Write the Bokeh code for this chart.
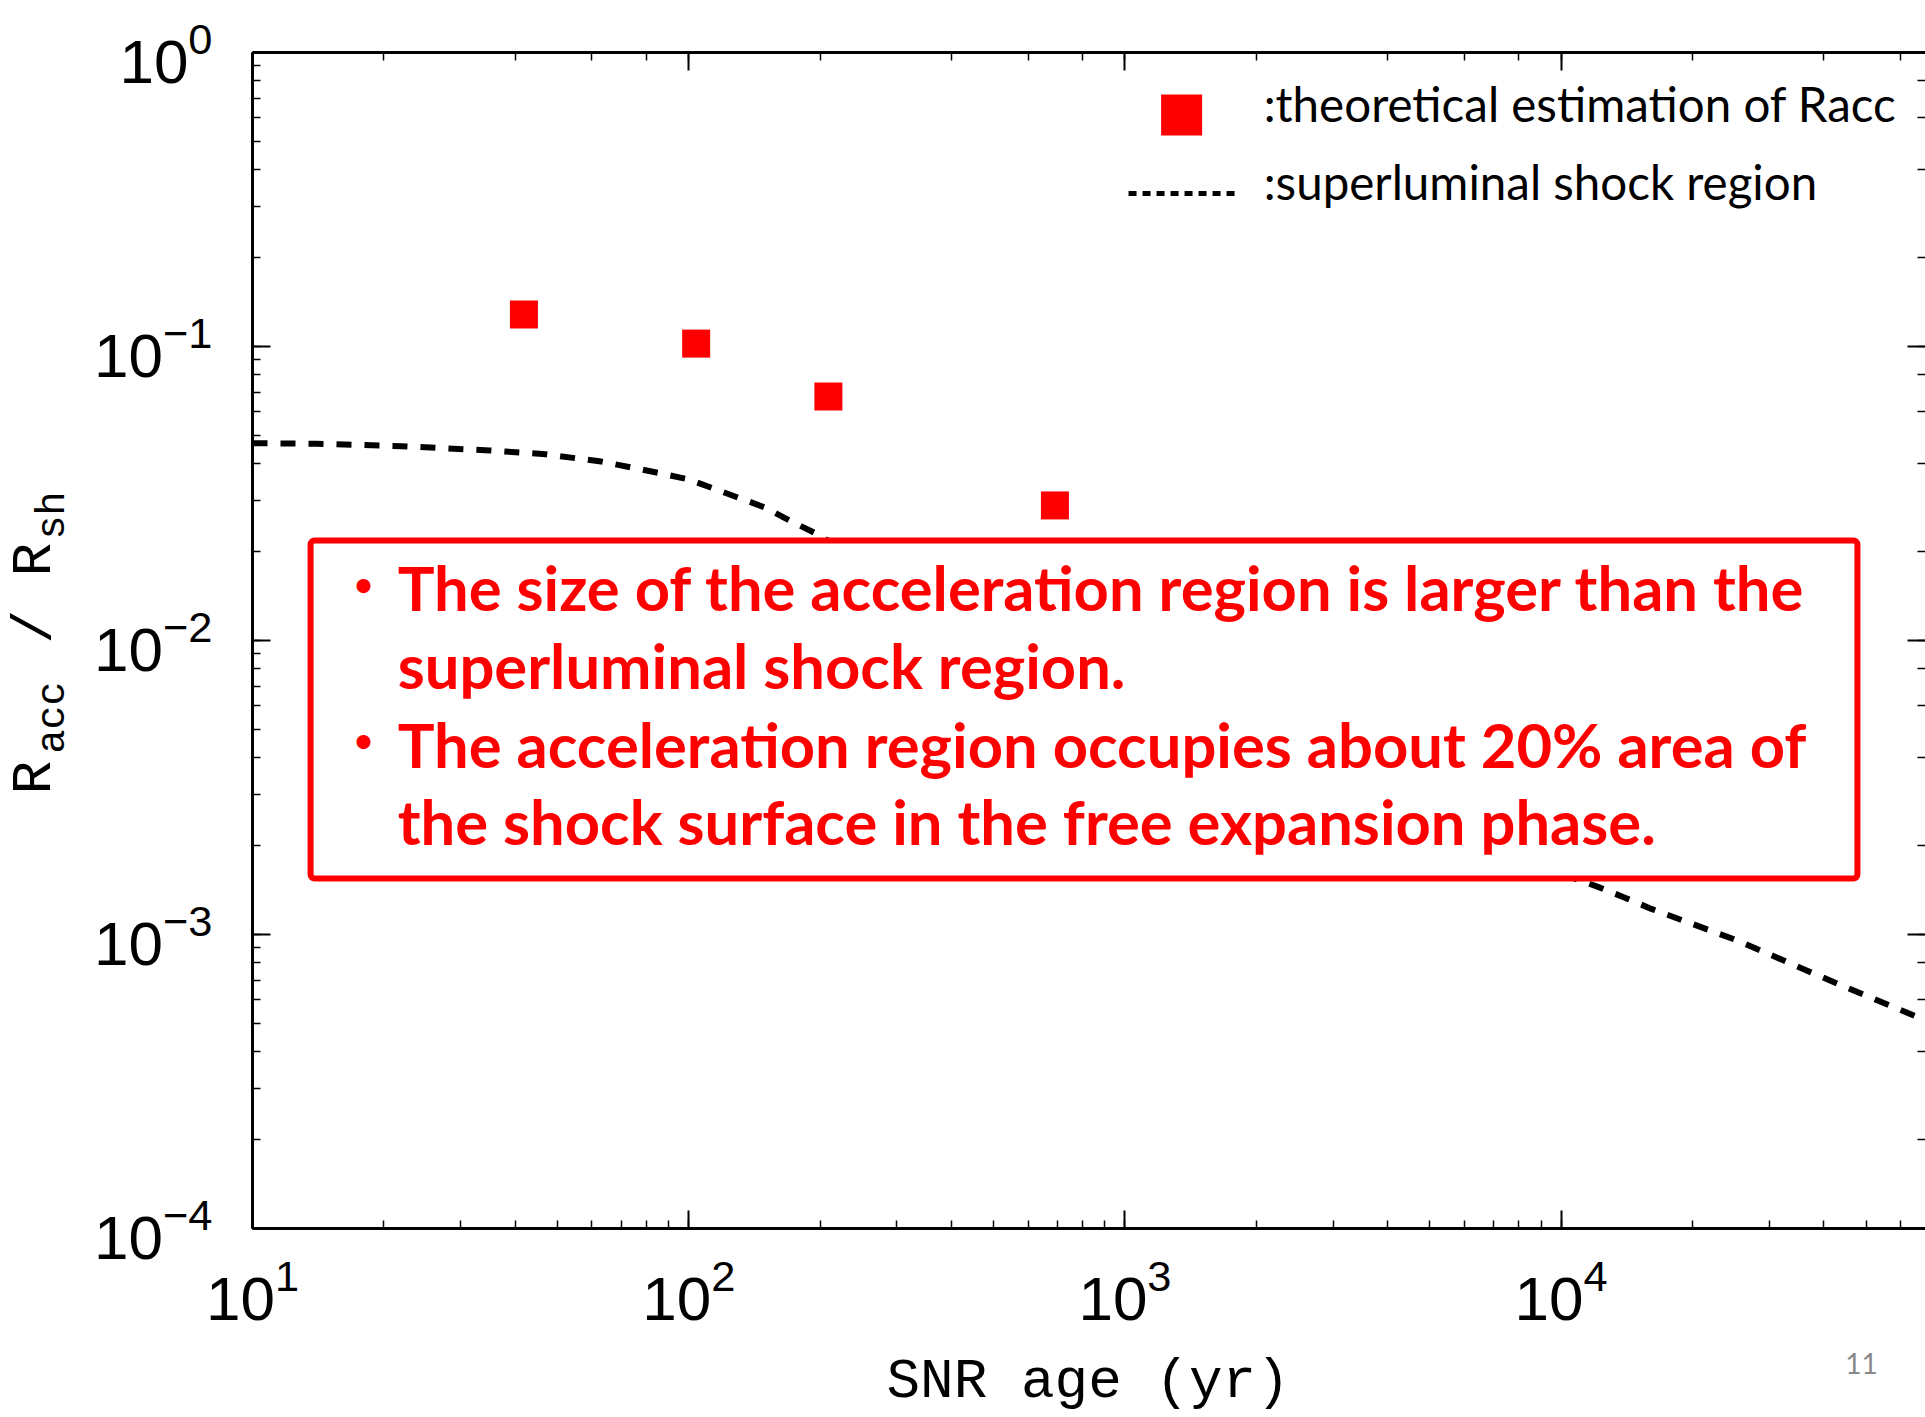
import numpy as np
from bokeh.plotting import figure
from bokeh.layouts import row, column
from bokeh.models import LogAxis, BoxAnnotation, Label, Range1d, CustomJSTickFormatter
from bokeh.embed import file_html
from bokeh.resources import INLINE

# ---- data ----
acc_age = [41.9, 104, 209, 691]            # theoretical estimation of Racc (yr)
acc_ratio = [0.1285, 0.1023, 0.0676, 0.0288]

shock_age = [10, 14, 22, 35, 47, 63, 85, 100, 130, 150, 172, 196,
             300, 500, 1000, 2000, 5000,
             12100, 14000, 16100, 25300, 43100, 65200, 69200]
shock_ratio = [0.0469, 0.0467, 0.0458, 0.0443, 0.0430, 0.0406, 0.0372, 0.0353,
               0.0306, 0.0283, 0.0254, 0.0231,
               0.0158, 0.0105, 0.0063, 0.0040, 0.00234,
               0.001455, 0.001334, 0.001222, 0.000955, 0.000679, 0.000526, 0.000507]

legend_labels = [":theoretical estimation of Racc", ":superluminal shock region"]
box_lines = ["The size of the acceleration region is larger than the",
             "superluminal shock region.",
             "The acceleration region occupies about 20% area of",
             "the shock surface in the free expansion phase."]
x_label = "SNR age (yr)"
page_no = "11"

# ---- layout (canvas pixels) ----
W, H = 1925, 1417
STRIP_W = 80            # left strip holding the rotated y label
MAIN_H = 1340           # main figure height; bottom strip below it
L, T = 252, 52          # frame left / top on the canvas
FH = 1176
FW = W - L - 2
DEC_X = 435.7
DEC_Y = FH / 4.0
x_end = 10 ** (1 + FW / DEC_X)
Q = 0.4                 # baseline correction (fraction of font size)


def xd(sx):
    return 10 ** (1 + (sx - L) / DEC_X)


def yd(sy):
    return 10 ** (-(sy - T) / DEC_Y)


p = figure(x_axis_type="log", y_axis_type="log",
           x_range=Range1d(10, x_end), y_range=Range1d(1e-4, 1),
           width=W - STRIP_W, height=MAIN_H,
           min_border_left=L - STRIP_W, min_border_right=0, min_border_top=T,
           min_border_bottom=MAIN_H - T - FH,
           output_backend="svg", toolbar_location=None,
           background_fill_color="white", border_fill_color="white",
           outline_line_color=None)
p.grid.visible = False

blank = CustomJSTickFormatter(code="return ''")
p.add_layout(LogAxis(formatter=blank), "above")
p.add_layout(LogAxis(formatter=blank), "right")

for ax in p.axis:
    ax.axis_line_width = 3
    ax.axis_line_color = "black"
    ax.major_tick_in = 18
    ax.major_tick_out = 0
    ax.minor_tick_in = 8
    ax.minor_tick_out = 0
    ax.major_tick_line_width = 2
    ax.minor_tick_line_width = 1.5
    ax.major_tick_line_color = "black"
    ax.minor_tick_line_color = "black"
    ax.major_label_text_font = "Liberation Sans"
    ax.major_label_text_font_size = "62px"
    ax.major_label_text_color = "black"

for ax in p.above + p.right:
    ax.major_label_text_font_size = "1px"
    ax.major_label_text_alpha = 0
    ax.major_label_standoff = 0
    ax.axis_label = None
for ax in p.right:
    ax.axis_line_color = None

p.yaxis[0].major_label_standoff = 40
p.yaxis[0].axis_label = None
xa = p.below[0]
xa.major_label_standoff = 30
xa.axis_label = None

# data
p.line(shock_age, shock_ratio, line_color="black", line_width=6,
       line_dash="15 13", line_cap="butt")
p.scatter(acc_age, acc_ratio, marker="square", size=28,
          fill_color="#ff0000", line_color=None)

# hand-drawn legend (as in the slide)
p.scatter([xd(1180)], [yd(114.5)], marker="square", size=41,
          fill_color="#ff0000", line_color=None)
p.line([xd(1127), xd(1237)], [yd(193), yd(193)], line_color="black",
       line_width=5, line_dash="8 6", line_cap="butt")
LEG_FS = 47.5
for txt, sy in zip(legend_labels, [122, 200]):
    p.add_layout(Label(x=xd(1262), y=yd(sy - Q * LEG_FS), text=txt, text_font="Lato",
                       text_font_size=f"{LEG_FS}px", text_color="black",
                       text_baseline="alphabetic", text_align="left"))

# annotation box
p.add_layout(BoxAnnotation(left=xd(310), right=xd(1855), top=yd(540), bottom=yd(878),
                           fill_color="white", fill_alpha=1.0,
                           line_color="#ff0000", line_alpha=1.0, line_width=6,
                           border_radius=4))
BOX_FS = 61.5
for txt, sy in zip(box_lines, [611, 689, 768, 845]):
    p.add_layout(Label(x=xd(397), y=yd(sy - Q * BOX_FS), text=txt, text_font="Lato",
                       text_font_style="bold", text_font_size=f"{BOX_FS}px",
                       text_color="#ff0000", text_baseline="alphabetic",
                       text_align="left"))
BUL_FS = 32
for sy in [596, 752]:
    p.add_layout(Label(x=xd(363), y=yd(sy - Q * BUL_FS), text="\u2022", text_font="Lato",
                       text_font_style="bold", text_font_size=f"{BUL_FS}px",
                       text_color="#ff0000", text_baseline="alphabetic",
                       text_align="center"))

# ---- left strip: rotated y label R_acc / R_sh ----
ys = figure(width=STRIP_W, height=MAIN_H, x_range=Range1d(0, STRIP_W),
            y_range=Range1d(T + FH, T), x_axis_location=None, y_axis_location=None,
            min_border_left=0, min_border_right=0, min_border_top=T,
            min_border_bottom=MAIN_H - T - FH,
            output_backend="svg", toolbar_location=None,
            outline_line_color=None, background_fill_color="white",
            border_fill_color="white")
ys.grid.visible = False
# (text, font size, baseline x, start y) in canvas pixels
ylab = [("R", 56, 55, 794), ("acc", 40, 67, 753), ("/", 56, 55, 643),
        ("R", 56, 55, 576), ("sh", 40, 67, 539)]
for txt, fs, sx, sy in ylab:
    ys.add_layout(Label(x=sx - Q * fs + 2, y=sy, text=txt, text_font="Liberation Mono",
                        text_font_size=f"{fs}px", text_color="black",
                        angle=np.pi / 2, angle_units="rad",
                        text_baseline="alphabetic", text_align="left"))

# ---- bottom strip: x label and page number ----
BH = H - MAIN_H
bs = figure(width=W, height=BH, x_range=Range1d(0, W), y_range=Range1d(BH, 0),
            x_axis_location=None, y_axis_location=None, min_border=0,
            output_backend="svg", toolbar_location=None, outline_line_color=None,
            background_fill_color="white", border_fill_color="white")
bs.grid.visible = False
XL_FS = 56
bs.add_layout(Label(x=886, y=1404 - MAIN_H - Q * XL_FS, text=x_label,
                    text_font="Liberation Mono", text_font_size=f"{XL_FS}px",
                    text_color="black", text_baseline="alphabetic", text_align="left"))
PN_FS = 28
bs.add_layout(Label(x=1861, y=1374 - MAIN_H - Q * PN_FS, text=page_no, text_font="Lato",
                    text_font_size=f"{PN_FS}px", text_color="#8a8a8a",
                    text_baseline="alphabetic", text_align="center"))

layout = column(row(ys, p, spacing=0), bs, spacing=0)
open("out.html", "w").write(file_html(layout, INLINE))
